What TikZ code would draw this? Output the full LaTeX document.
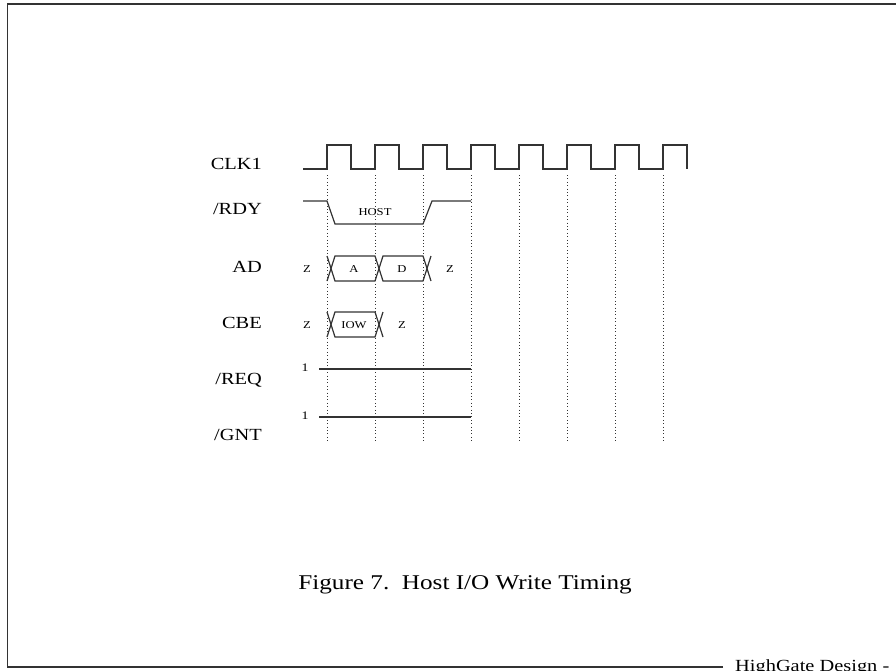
\documentclass[tikz,border=0pt]{standalone}
\usepackage{fontspec}
\setmainfont{Liberation Serif}[FakeStretch=1.2]

\begin{document}
\begin{tikzpicture}[x=1pt,y=-1pt,
	wave/.style={line width=1.2pt, draw=black!80},
	tick/.style={line width=0.7pt, dash pattern=on 0.8pt off 2.6pt, draw=black!80},
	signame/.style={anchor=base east, inner sep=0pt, font=\fontsize{17}{20}\selectfont},
	small/.style={inner sep=0pt, font=\fontsize{10.5}{12}\selectfont}]

	\useasboundingbox (0,0) rectangle (896,670);
	\clip (0,0) rectangle (896,670);

	% Page frame
	\draw[line width=1.5pt, draw=black!80] (723,667) -- (7.5,667) -- (7.5,4) -- (910,4);
	\node[anchor=base west, inner sep=0pt, font=\fontsize{17}{20}\selectfont] (firm) at (735,671) {HighGate Design -};

	% Signal names
	\node[signame] (clk) at (262,169) {CLK1};
	\node[signame] (rdy) at (262,214) {/RDY};
	\node[signame] (ad) at (262,272) {AD};
	\node[signame] (cbe) at (262,328) {CBE};
	\node[signame] (req) at (262,384) {/REQ};
	\node[signame] (gnt) at (262,440) {/GNT};

	% Clock
	\draw[wave] (303,169)
		\foreach \k in {0,...,7} { -- ({327+48*\k},169) -- ({327+48*\k},145) -- ({351+48*\k},145) -- ({351+48*\k},169) };

	% Rising edge markers
	\foreach \k in {0,...,7}
		\draw[tick] ({327+48*\k},175) -- ({327+48*\k},441);

	% RDY driven low by host
	\draw[wave] (303,201) -- (327,201) -- (335,224) -- (423,224) -- (432,201) -- (471,201);
	\node[small] (host) at (375,212) {HOST};

	% AD bus
	\draw[wave] (327,256) -- (335,281) -- (375,281) -- (383,256) -- (423,256) -- (431,281);
	\draw[wave] (327,281) -- (335,256) -- (375,256) -- (383,281) -- (423,281) -- (431,256);
	\node[small] (adz1) at (307,269) {Z};
	\node[small] (ada) at (354,269) {A};
	\node[small] (add) at (402,269) {D};
	\node[small] (adz2) at (450,269) {Z};

	% CBE bus
	\draw[wave] (327,312) -- (335,337) -- (375,337) -- (383,312);
	\draw[wave] (327,337) -- (335,312) -- (375,312) -- (383,337);
	\node[small] (cbez1) at (307,325) {Z};
	\node[small] (cbeiow) at (354,325) {IOW};
	\node[small] (cbez2) at (402,325) {Z};

	% REQ and GNT held high
	\draw[wave] (319,369) -- (471,369);
	\node[small, font=\fontsize{11.5}{13}\selectfont] (reqone) at (305,368) {1};
	\draw[wave] (319,417) -- (471,417);
	\node[small, font=\fontsize{11.5}{13}\selectfont] (gntone) at (305,416) {1};

	% Caption
	\node[anchor=base, inner sep=0pt, font=\fontsize{21}{25}\selectfont] (caption) at (465,589) {Figure 7.\ \ Host I/O Write Timing};

\end{tikzpicture}
\end{document}
